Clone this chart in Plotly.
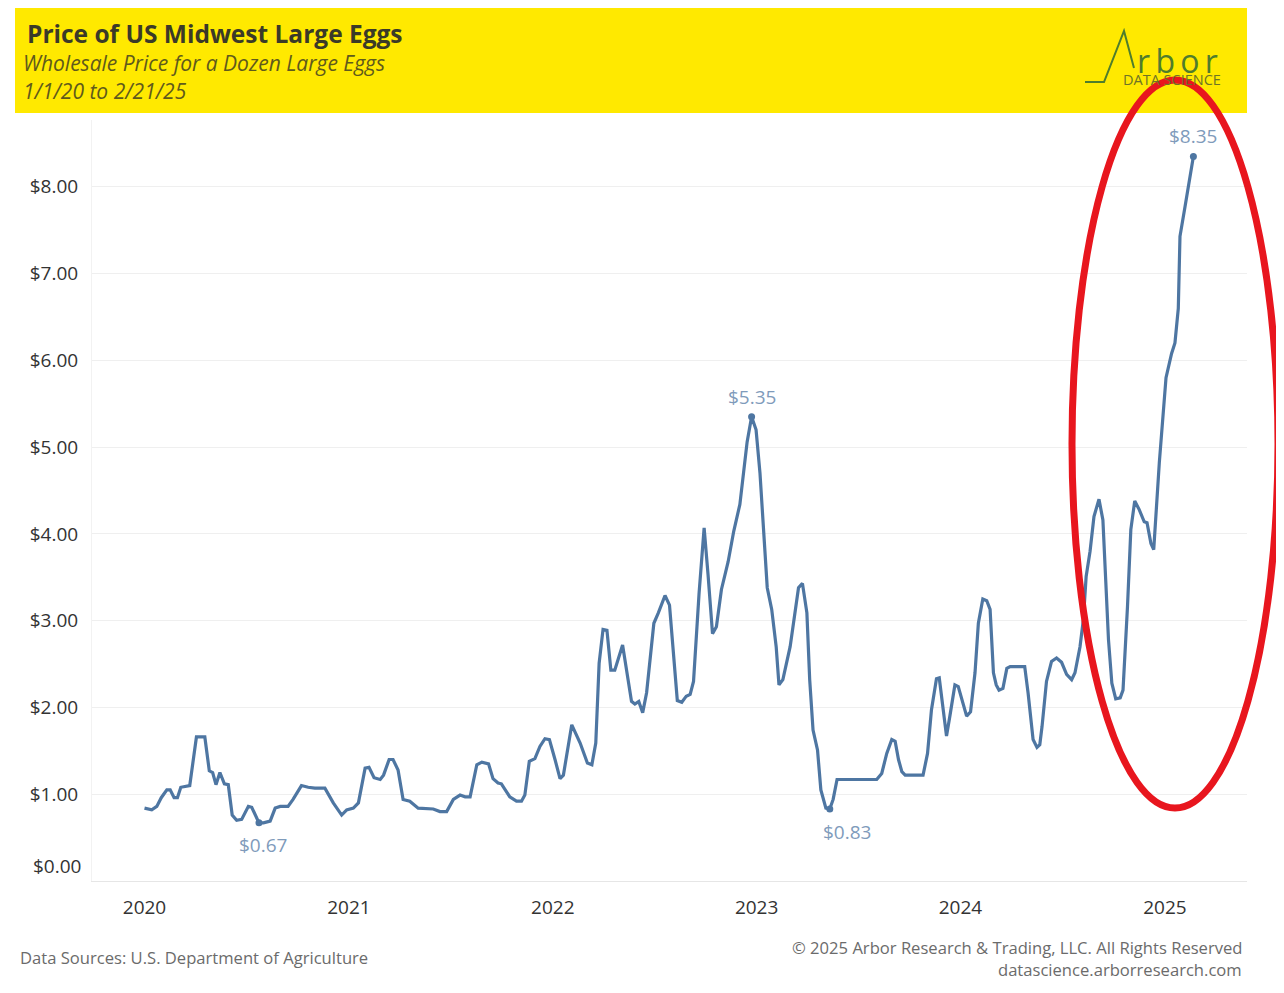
import plotly.graph_objects as go

# ---------------- data ----------------
dates = [
    "2020-01-01", "2020-01-14", "2020-01-23", "2020-01-31", "2020-02-10", "2020-02-16",
    "2020-02-23", "2020-02-29", "2020-03-06", "2020-03-17", "2020-03-22", "2020-04-03",
    "2020-04-18", "2020-04-26", "2020-05-02", "2020-05-08", "2020-05-15", "2020-05-23",
    "2020-05-30", "2020-06-06", "2020-06-14", "2020-06-23", "2020-07-05", "2020-07-11",
    "2020-07-24", "2020-08-01", "2020-08-13", "2020-08-22", "2020-08-31", "2020-09-14",
    "2020-09-23", "2020-10-08", "2020-10-20", "2020-11-01", "2020-11-19", "2020-12-04",
    "2020-12-19", "2020-12-28", "2021-01-09", "2021-01-18", "2021-01-30", "2021-02-06",
    "2021-02-15", "2021-02-26", "2021-03-04", "2021-03-14", "2021-03-21", "2021-03-30",
    "2021-04-08", "2021-04-20", "2021-05-05", "2021-06-01", "2021-06-13", "2021-06-25",
    "2021-07-07", "2021-07-19", "2021-07-28", "2021-08-06", "2021-08-18", "2021-08-27",
    "2021-09-08", "2021-09-16", "2021-09-25", "2021-10-01", "2021-10-16", "2021-10-28",
    "2021-11-06", "2021-11-12", "2021-11-20", "2021-11-30", "2021-12-09", "2021-12-18",
    "2021-12-26", "2022-01-05", "2022-01-14", "2022-01-20", "2022-02-04", "2022-02-19",
    "2022-03-04", "2022-03-12", "2022-03-19", "2022-03-25", "2022-04-01", "2022-04-08",
    "2022-04-15", "2022-04-22", "2022-05-06", "2022-05-22", "2022-05-28", "2022-06-04",
    "2022-06-11", "2022-06-18", "2022-07-01", "2022-07-09", "2022-07-21", "2022-07-29",
    "2022-08-05", "2022-08-12", "2022-08-20", "2022-08-28", "2022-09-04", "2022-09-10",
    "2022-09-20", "2022-09-29", "2022-10-06", "2022-10-14", "2022-10-21", "2022-10-30",
    "2022-11-11", "2022-11-21", "2022-12-02", "2022-12-08", "2022-12-15", "2022-12-23",
    "2022-12-31", "2023-01-07", "2023-01-14", "2023-01-20", "2023-01-28", "2023-02-05",
    "2023-02-10", "2023-02-17", "2023-03-02", "2023-03-09", "2023-03-17", "2023-03-24",
    "2023-04-01", "2023-04-06", "2023-04-12", "2023-04-20", "2023-04-26", "2023-05-05",
    "2023-05-12", "2023-05-18", "2023-05-25", "2023-08-04", "2023-08-13", "2023-08-22",
    "2023-08-31", "2023-09-06", "2023-09-12", "2023-09-18", "2023-09-24", "2023-10-26",
    "2023-11-03", "2023-11-10", "2023-11-19", "2023-11-24", "2023-11-30", "2023-12-07",
    "2023-12-13", "2023-12-22", "2023-12-28", "2024-01-05", "2024-01-12", "2024-01-19",
    "2024-01-27", "2024-02-02", "2024-02-10", "2024-02-17", "2024-02-23", "2024-02-29",
    "2024-03-05", "2024-03-10", "2024-03-17", "2024-03-24", "2024-03-30", "2024-04-25",
    "2024-05-01", "2024-05-10", "2024-05-17", "2024-05-22", "2024-05-26", "2024-06-03",
    "2024-06-12", "2024-06-21", "2024-06-30", "2024-07-09", "2024-07-18", "2024-07-24",
    "2024-08-02", "2024-08-08", "2024-08-13", "2024-08-20", "2024-08-27", "2024-09-05",
    "2024-09-12", "2024-09-17", "2024-09-22", "2024-09-28", "2024-10-05", "2024-10-13",
    "2024-10-18", "2024-10-26", "2024-11-01", "2024-11-08", "2024-11-16", "2024-11-25",
    "2024-11-30", "2024-12-07", "2024-12-12", "2024-12-22", "2024-12-28", "2025-01-03",
    "2025-01-13", "2025-01-19", "2025-01-25", "2025-01-28", "2025-02-06", "2025-02-14",
    "2025-02-21",
]
prices = [
    0.84, 0.82, 0.86, 0.96, 1.05, 1.05,
    0.96, 0.96, 1.08, 1.10, 1.10, 1.66,
    1.66, 1.27, 1.25, 1.11, 1.25, 1.12,
    1.11, 0.76, 0.70, 0.71, 0.86, 0.85,
    0.67, 0.67, 0.69, 0.84, 0.86, 0.86,
    0.94, 1.10, 1.08, 1.07, 1.07, 0.90,
    0.76, 0.82, 0.84, 0.90, 1.30, 1.31,
    1.19, 1.17, 1.22, 1.40, 1.40, 1.28,
    0.94, 0.92, 0.84, 0.83, 0.80, 0.80,
    0.94, 0.99, 0.97, 0.97, 1.34, 1.37,
    1.35, 1.18, 1.13, 1.12, 0.97, 0.92,
    0.92, 0.99, 1.38, 1.41, 1.55, 1.64,
    1.63, 1.40, 1.18, 1.22, 1.80, 1.59,
    1.36, 1.34, 1.59, 2.51, 2.90, 2.89,
    2.43, 2.43, 2.72, 2.07, 2.04, 2.07,
    1.94, 2.17, 2.97, 3.09, 3.29, 3.18,
    2.63, 2.08, 2.06, 2.13, 2.15, 2.30,
    3.32, 4.07, 3.53, 2.85, 2.93, 3.36,
    3.68, 4.03, 4.34, 4.66, 5.06, 5.35,
    5.20, 4.70, 4.05, 3.38, 3.13, 2.70,
    2.26, 2.32, 2.70, 3.01, 3.38, 3.43,
    3.09, 2.32, 1.74, 1.51, 1.05, 0.84,
    0.83, 0.94, 1.17, 1.17, 1.24, 1.47,
    1.63, 1.61, 1.40, 1.26, 1.22, 1.22,
    1.47, 1.97, 2.33, 2.34, 2.05, 1.67,
    1.90, 2.26, 2.24, 2.05, 1.90, 1.95,
    2.40, 2.97, 3.25, 3.23, 3.13, 2.40,
    2.26, 2.20, 2.22, 2.45, 2.47, 2.47,
    2.17, 1.63, 1.54, 1.57, 1.78, 2.30,
    2.53, 2.57, 2.52, 2.38, 2.32, 2.40,
    2.70, 3.01, 3.51, 3.80, 4.20, 4.40,
    4.16, 3.47, 2.78, 2.28, 2.10, 2.11,
    2.20, 3.16, 4.05, 4.38, 4.28, 4.14,
    4.13, 3.89, 3.82, 4.82, 5.35, 5.80,
    6.08, 6.20, 6.60, 7.43, 7.77, 8.06,
    8.35,
]

label_dates = ["2020-07-24", "2022-12-23", "2023-05-12", "2025-02-21"]
label_values = [0.67, 5.35, 0.83, 8.35]
label_texts = ["$0.67", "$5.35", "$0.83", "$8.35"]

y_tick_values = [1, 2, 3, 4, 5, 6, 7, 8]
y_tick_texts = ["$1.00", "$2.00", "$3.00", "$4.00", "$5.00", "$6.00", "$7.00", "$8.00"]
x_tick_values = ["2020-01-01", "2021-01-01", "2022-01-01", "2023-01-01", "2024-01-01", "2025-01-01"]
x_tick_texts = ["2020", "2021", "2022", "2023", "2024", "2025"]

# ---------------- layout geometry ----------------
# The page body adds an 8px margin, so the figure is 8px smaller and page
# positions are measured relative to that offset.
OFF = 8
W, H = 1284 - OFF, 993 - OFF
L, R, T, B = 92, 1247, 120, 881   # plot box in page pixels


def px(x):
    return (x - L) / (R - L)


def py(y):
    return (B - y) / (B - T)


FONT = "'Open Sans', Lato, sans-serif"
LINE_COLOR = "#4e76a2"
LABEL_COLOR = "#7f9bbb"

fig = go.Figure()

fig.add_trace(go.Scatter(
    x=dates, y=prices, mode="lines",
    line=dict(color=LINE_COLOR, width=3.2),
    hoverinfo="x+y", showlegend=False,
))

fig.add_trace(go.Scatter(
    x=label_dates, y=label_values, mode="markers",
    marker=dict(color=LINE_COLOR, size=7),
    showlegend=False, hoverinfo="skip",
))

shapes = [
    # yellow header band
    dict(type="rect", xref="paper", yref="paper",
         x0=px(15), x1=px(1247), y0=py(113), y1=py(5),
         fillcolor="#ffe900", line=dict(width=0), layer="below"),
    # Arbor logo "A" peak stroke
    dict(type="path", xref="paper", yref="paper",
         path=f"M {px(1085)} {py(82)} L {px(1104)} {py(82)} L {px(1124)} {py(31)} L {px(1134)} {py(68)}",
         line=dict(color="#4f7d2c", width=2)),
    # red highlight ellipse
    dict(type="circle", xref="paper", yref="paper",
         x0=px(1072), x1=px(1278), y0=py(808), y1=py(80),
         line=dict(color="#e8161e", width=7), layer="above"),
]

annotations = [
    dict(text="<b>Price of US Midwest Large Eggs</b>", x=px(25), y=py(33),
         font=dict(family=FONT, size=24.5, color="#3b3a28")),
    dict(text="<i>Wholesale Price for a Dozen Large Eggs</i>", x=px(21), y=py(63),
         font=dict(family=FONT, size=21, color="#5f5a1c")),
    dict(text="<i>1/1/20 to 2/21/25</i>", x=px(21), y=py(91),
         font=dict(family=FONT, size=21, color="#5f5a1c")),
    dict(text="r\u2009b\u2009o\u2009r", x=px(1135), y=py(60),
         font=dict(family=FONT, size=32, color="#4f7d2c")),
    dict(text="DATA SCIENCE", x=px(1121), y=py(79),
         font=dict(family=FONT, size=14.5, color="#6d7326")),
    dict(text="Data Sources: U.S. Department of Agriculture", x=px(18), y=py(958),
         font=dict(family=FONT, size=16.6, color="#6b6b6b")),
    dict(text="© 2025 Arbor Research & Trading, LLC. All Rights Reserved", x=px(1244), y=py(947),
         xanchor="right", font=dict(family=FONT, size=16.6, color="#6b6b6b")),
    dict(text="datascience.arborresearch.com", x=px(1244), y=py(969),
         xanchor="right", font=dict(family=FONT, size=16.6, color="#6b6b6b")),
]
for a in annotations:
    a.setdefault("xref", "paper")
    a.setdefault("yref", "paper")
    a.setdefault("xanchor", "left")
    a.setdefault("yanchor", "middle")
    a["showarrow"] = False

# value labels next to highlighted points
label_shifts = [(4, -22), (0, 20), (17, -23), (0, 20)]
for d, v, t, (dx, dy) in zip(label_dates, label_values, label_texts, label_shifts):
    annotations.append(dict(text=t, x=d, y=v, xref="x", yref="y",
                            xanchor="center", yanchor="middle", xshift=dx, yshift=dy,
                            showarrow=False,
                            font=dict(family=FONT, size=19, color=LABEL_COLOR)))

# $0.00 tick label sits a little above the baseline, as in the reference
annotations.append(dict(text="$0.00", xref="paper", yref="y", x=0, y=0,
                        xanchor="right", yanchor="middle", xshift=-9, yshift=15,
                        showarrow=False, font=dict(family=FONT, size=19, color="#333333")))

fig.update_layout(
    width=W, height=H,
    margin=dict(l=L - OFF, r=W - (R - OFF), t=T - OFF, b=H - (B - OFF), pad=0),
    paper_bgcolor="white", plot_bgcolor="white",
    shapes=shapes, annotations=annotations,
    font=dict(family=FONT),
    xaxis=dict(
        type="date", range=["2019-09-29", "2025-05-28"],
        tickvals=x_tick_values, ticktext=x_tick_texts,
        tickfont=dict(family=FONT, size=19, color="#333333"),
        ticks="outside", ticklen=9, tickcolor="rgba(0,0,0,0)",
        showgrid=False, zeroline=False,
        showline=True, linecolor="#e6e6e6", linewidth=1,
    ),
    yaxis=dict(
        range=[0, 8.77],
        tickvals=y_tick_values, ticktext=y_tick_texts,
        tickfont=dict(family=FONT, size=19, color="#333333"),
        ticks="outside", ticklen=9, tickcolor="rgba(0,0,0,0)",
        showgrid=True, gridcolor="#efefef", gridwidth=1,
        zeroline=False, showline=True, linecolor="#f2f2f2", linewidth=1,
    ),
)

fig.write_html("out.html")
